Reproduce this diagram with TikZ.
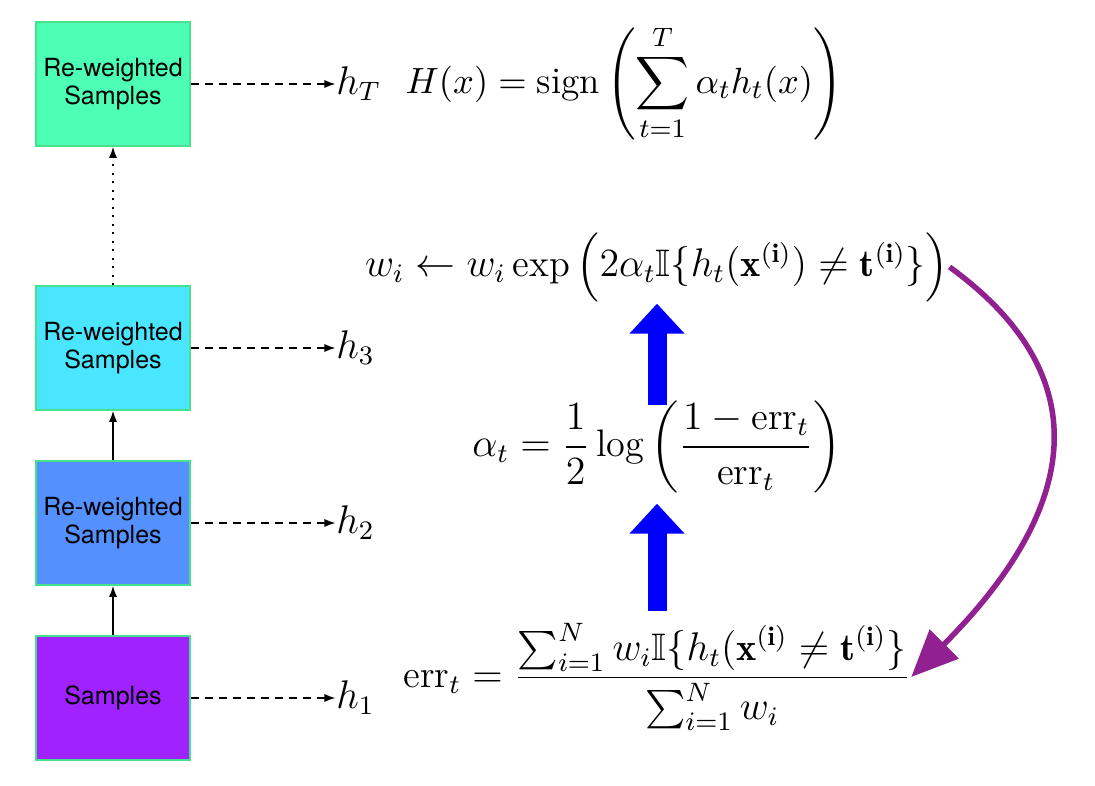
\documentclass[tikz,border=0pt]{standalone}
\usepackage{amsmath, amssymb}
\usepackage{fontspec}
\setsansfont{TeX Gyre Heros}
\usepackage{tikz}
\usetikzlibrary{positioning, arrows.meta}
\definecolor{samplegreen}{RGB}{76,255,180}
\definecolor{samplecyan}{RGB}{74,230,255}
\definecolor{sampleblue}{RGB}{85,144,255}
\definecolor{samplepurple}{RGB}{160,34,255}
\definecolor{boxedge}{RGB}{70,225,140}
\definecolor{loopcol}{RGB}{145,32,145}
\newcommand{\err}{\mathrm{err}}
\newcommand{\ind}{\mathbb{I}}

\begin{document}
\begin{tikzpicture}[x=0.3pt, y=0.3pt, node distance=43.5pt,
  sample/.style={draw=boxedge, line width=0.4pt, inner sep=1pt, minimum width=46.2pt, minimum height=37.2pt,
    align=center, font=\sffamily\fontsize{7.5}{8.6}\selectfont},
  hyp/.style={inner sep=0pt, font=\fontsize{11.5}{14}\selectfont},
  formula/.style={inner sep=0pt, font=\fontsize{11.5}{14}\selectfont},
  tip/.style={-{Latex[length=3.4pt, width=2.5pt]}, line width=0.55pt},
  bigup/.style={-{Triangle[length=9pt, width=16pt]}, line width=5.7pt, blue}]
\useasboundingbox (0,0) rectangle (1095,786);
% boosting rounds
\node (s1) [sample, fill=samplepurple] at (113,88) {Samples};
\node (s2) [sample, fill=sampleblue, above=14.9pt of s1] {Re-weighted\\Samples};
\node (s3) [sample, fill=samplecyan, above=14.9pt of s2] {Re-weighted\\Samples};
\node (sT) [sample, fill=samplegreen, above=41.6pt of s3] {Re-weighted\\Samples};
\node (h1) [hyp, right=of s1] {$h_1$};
\node (h2) [hyp, right=of s2] {$h_2$};
\node (h3) [hyp, right=of s3] {$h_3$};
\node (hT) [hyp, right=of sT] {$h_T$};
\draw[tip] (s1) -- (s2);
\draw[tip] (s2) -- (s3);
\draw[tip, dotted] (s3) -- (sT);
\foreach \s/\h in {s1/h1, s2/h2, s3/h3, sT/hT}
  \draw[tip, dash pattern=on 2.6pt off 1.6pt] (\s) -- (\h);
% update rules
\node (H) [formula, anchor=west, font=\fontsize{11.2}{14}\selectfont] at (405,703) {$\displaystyle H(x) = \operatorname{sign}\left(\sum_{t=1}^{T}\alpha_t h_t(x)\right)$};
\node (w) [formula] at (657,519) {$w_i \leftarrow w_i \exp\Big(2\alpha_t \ind\{h_t(\mathbf{x}^{(\mathbf{i})}) \neq \mathbf{t}^{(\mathbf{i})}\}\Big)$};
\node (a) [formula] at (657,339) {$\displaystyle \alpha_t = \frac{1}{2}\log\left(\frac{1-\err_t}{\err_t}\right)$};
\node (e) [formula] at (657,109) {$\displaystyle \err_t = \frac{\sum_{i=1}^{N} w_i \ind\{h_t(\mathbf{x}^{(\mathbf{i})} \neq \mathbf{t}^{(\mathbf{i})}\}}{\sum_{i=1}^{N} w_i}$};
\draw[bigup, shorten <=3.6pt, shorten >=3pt] (e) -- (a);
\draw[bigup, shorten <=-1.5pt] (a) -- (w);
\draw[-{Triangle[length=14pt, width=12pt]}, line width=1.65pt, loopcol]
  (w.east) .. controls +(-36:200) and +(45:220) .. (e.east);
\end{tikzpicture}
\end{document}
